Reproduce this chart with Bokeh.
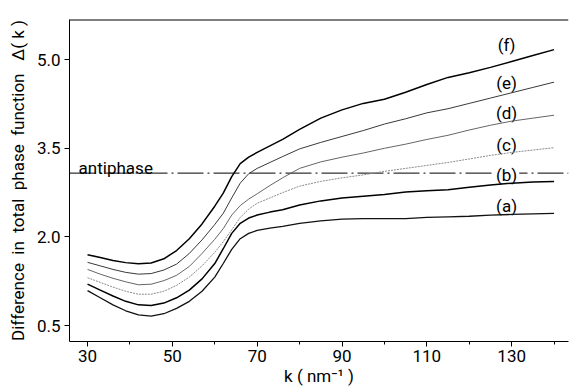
from bokeh.plotting import figure
from bokeh.models import (FixedTicker, PrintfTickFormatter, Span,
                          Label, Range1d)
from bokeh.embed import file_html
from bokeh.resources import INLINE

# ---- data ----
k = [30, 33, 36, 39, 42, 45, 48, 51, 54, 57, 60, 62, 64, 66, 68, 70, 73, 76, 80,
     85, 90, 95, 100, 105, 110, 115, 120, 125, 130, 135, 140]
curve_a = [1.09, 0.97, 0.85, 0.75, 0.68, 0.66, 0.70, 0.79, 0.91, 1.08, 1.32, 1.55, 1.79,
           1.97, 2.06, 2.11, 2.15, 2.18, 2.23,
           2.27, 2.30, 2.31, 2.31, 2.31, 2.33, 2.34, 2.35, 2.37, 2.38, 2.39, 2.40]
curve_b = [1.20, 1.10, 1.00, 0.91, 0.85, 0.84, 0.88, 0.97, 1.10, 1.29, 1.55, 1.80, 2.06,
           2.23, 2.32, 2.37, 2.42, 2.46, 2.54,
           2.61, 2.66, 2.69, 2.72, 2.76, 2.78, 2.80, 2.84, 2.88, 2.91, 2.93, 2.94]
curve_c = [1.31, 1.23, 1.15, 1.08, 1.03, 1.03, 1.08, 1.18, 1.32, 1.51, 1.74, 1.92, 2.12,
           2.33, 2.47, 2.57, 2.66, 2.75, 2.86,
           2.94, 3.00, 3.05, 3.11, 3.16, 3.21, 3.26, 3.32, 3.38, 3.43, 3.47, 3.51]
curve_d = [1.45, 1.37, 1.30, 1.24, 1.19, 1.20, 1.26, 1.35, 1.50, 1.72, 1.96, 2.14, 2.37,
           2.53, 2.64, 2.73, 2.87, 3.00, 3.16,
           3.27, 3.35, 3.42, 3.50, 3.57, 3.65, 3.72, 3.81, 3.89, 3.96, 4.01, 4.06]
curve_e = [1.57, 1.51, 1.45, 1.40, 1.37, 1.38, 1.44, 1.54, 1.72, 1.95, 2.21, 2.40, 2.66,
           2.91, 3.07, 3.16, 3.26, 3.36, 3.49,
           3.60, 3.70, 3.80, 3.91, 4.00, 4.10, 4.17, 4.26, 4.35, 4.44, 4.53, 4.62]
curve_f = [1.70, 1.65, 1.60, 1.565, 1.545, 1.56, 1.63, 1.77, 1.97, 2.22, 2.52, 2.74, 3.02,
           3.24, 3.35, 3.43, 3.54, 3.65, 3.82,
           4.01, 4.15, 4.26, 4.33, 4.45, 4.58, 4.70, 4.78, 4.87, 4.97, 5.07, 5.17]
curve_names = ["(a)", "(b)", "(c)", "(d)", "(e)", "(f)"]
label_k = 128.8
label_y = [2.52, 3.05, 3.56, 4.10, 4.61, 5.24]
ANTIPHASE = 3.08
x_major = [30, 50, 70, 90, 110, 130]
x_minor = [40, 60, 80, 100, 120, 140]
y_major = [0.5, 2.0, 3.5, 5.0]
X_START, X_END = 25.75, 143.4
Y_START, Y_END = 0.23, 5.68

FONT = "Roboto"
NB = "\u00a0"

p = figure(width=570, height=391, output_backend="svg", toolbar_location=None,
           x_range=Range1d(X_START, X_END), y_range=Range1d(Y_START, Y_END),
           min_border_left=69, min_border_right=2, min_border_top=19,
           min_border_bottom=50)
p.outline_line_color = None
p.grid.visible = False
p.background_fill_color = "white"
p.border_fill_color = "white"

xa = p.xaxis[0]
xa.ticker = FixedTicker(ticks=x_major, minor_ticks=x_minor)
xa.axis_label = "k ( nm\u207b\u00b9 )"
ya = p.yaxis[0]
ya.ticker = FixedTicker(ticks=y_major, minor_ticks=[])
ya.formatter = PrintfTickFormatter(format="%.1f")
ya.axis_label = ("Difference" + NB * 2 + "in" + NB * 2 + "total" + NB * 2 + "phase"
                 + NB * 2 + "function" + NB * 3 + "\u0394( k )")
for ax in (xa, ya):
    ax.axis_line_color = "black"
    ax.axis_line_width = 1
    ax.major_tick_in = 0
    ax.major_tick_out = 5
    ax.minor_tick_in = 0
    ax.minor_tick_out = 3
    ax.major_tick_line_color = "black"
    ax.minor_tick_line_color = "black"
    ax.major_label_text_font = FONT
    ax.major_label_text_font_size = "17px"
    ax.major_label_text_color = "black"
    ax.axis_label_text_font = FONT
    ax.axis_label_text_font_size = "17px"
    ax.axis_label_text_font_style = "normal"
    ax.axis_label_text_color = "black"
ya.minor_tick_line_color = None
ya.major_label_standoff = 4
ya.axis_label_standoff = 6
xa.major_label_standoff = 3
xa.axis_label_standoff = 1

# top frame line
p.add_layout(Span(location=Y_END, dimension="width", line_color="black",
                  line_width=2, level="overlay"))

p.add_layout(Span(location=ANTIPHASE, dimension="width", line_color="black",
                  line_width=1, line_dash="26 4 2 4", level="underlay"))

styles = [
    (curve_a, "#111111", 1.3, "solid"),
    (curve_b, "#000000", 1.5, "solid"),
    (curve_c, "#8a8a8a", 1.0, "2 1"),
    (curve_d, "#555555", 0.9, "solid"),
    (curve_e, "#222222", 0.9, "solid"),
    (curve_f, "#000000", 1.5, "solid"),
]
for ys, col, lw, dash in styles:
    p.line(k, ys, line_color=col, line_width=lw, line_dash=dash)

for name, ly in zip(curve_names, label_y):
    p.add_layout(Label(x=label_k, y=ly, text=name, text_align="center",
                       text_baseline="middle", text_font=FONT,
                       text_font_size="17px", text_color="black",
                       background_fill_color="white" if name == "(b)" else None,
                       padding=2, level="underlay"))

p.add_layout(Label(x=27.9, y=3.17, text="antiphase", text_align="left",
                   text_baseline="alphabetic", text_font=FONT,
                   text_font_size="17px", text_color="black"))

open("out.html", "w").write(file_html(p, INLINE))
